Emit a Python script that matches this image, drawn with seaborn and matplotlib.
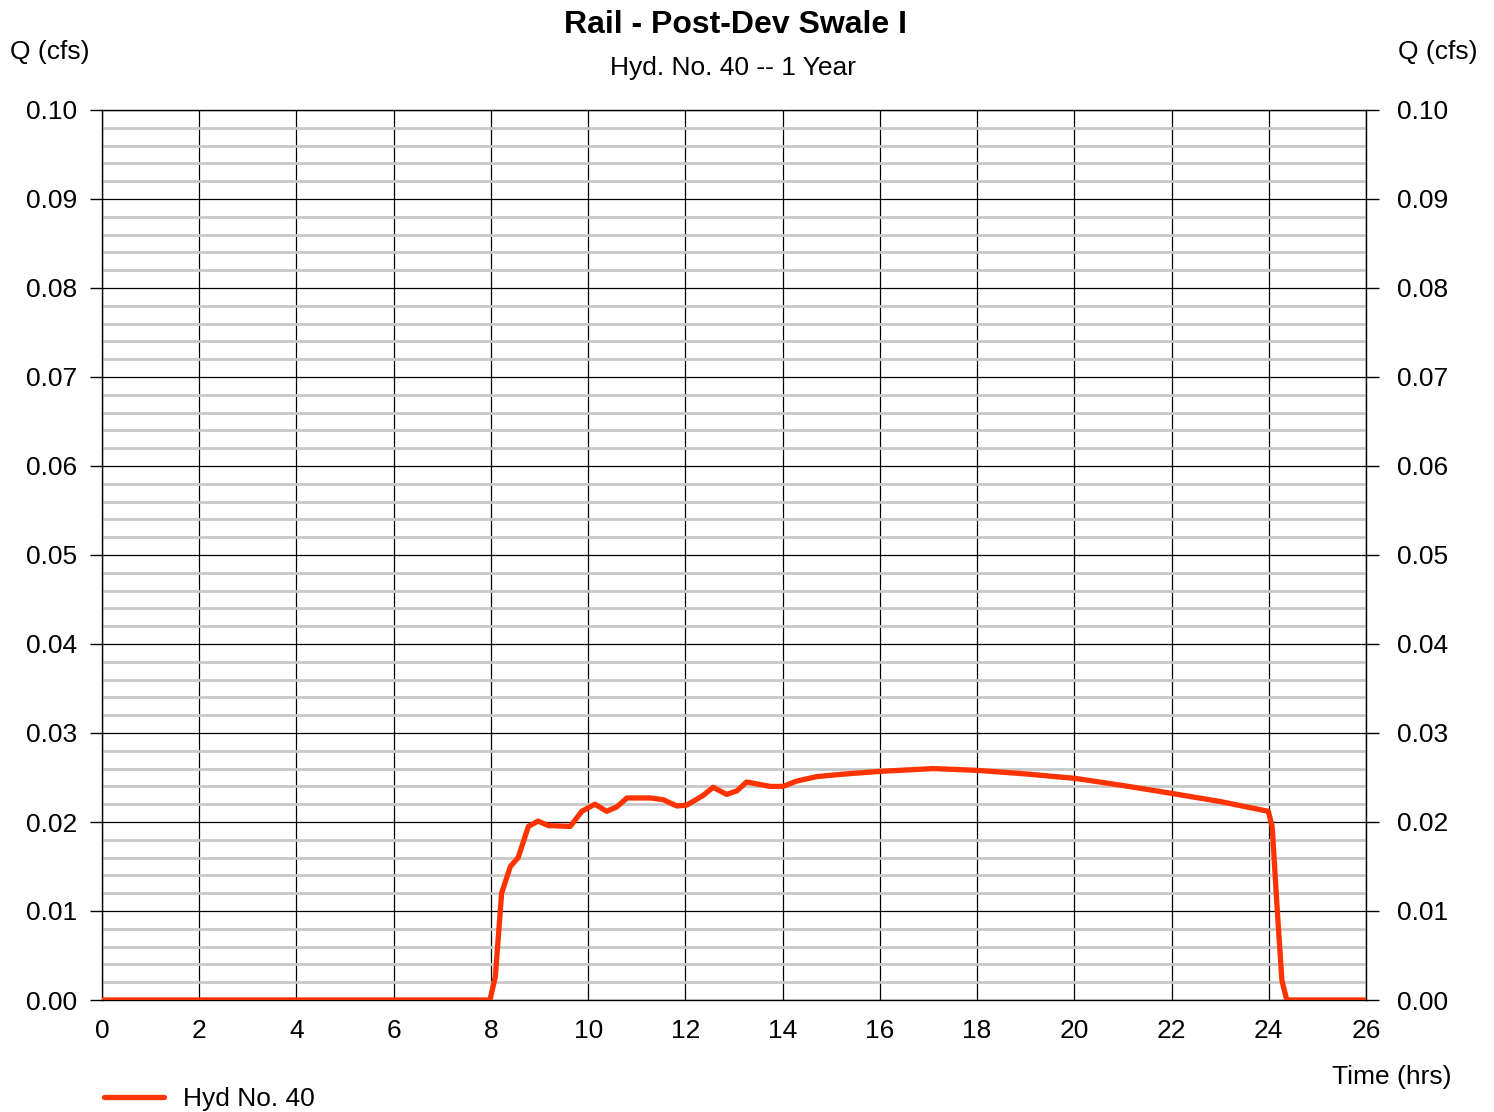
import matplotlib
matplotlib.use("Agg")
import matplotlib.pyplot as plt
import numpy as np
import pandas as pd
import seaborn as sns
from matplotlib.ticker import MultipleLocator

# hydrograph
hours = [0.0, 7.98, 8.09, 8.22, 8.40, 8.56, 8.77, 8.97, 9.18, 9.63, 9.87, 10.14,
         10.38, 10.59, 10.80, 11.28, 11.55, 11.82, 12.03, 12.37, 12.57, 12.85,
         13.06, 13.26, 13.74, 14.01, 14.29, 14.70, 15.30, 16.03, 17.10, 18.02,
         19.00, 20.02, 21.00, 22.02, 23.00, 23.99, 24.07, 24.17, 24.27, 24.37, 26.0]
flow = [0.0, 0.0, 0.0026, 0.0120, 0.0150, 0.0160, 0.0195, 0.0201, 0.0196, 0.0195,
        0.0212, 0.0220, 0.0212, 0.0217, 0.0227, 0.0227, 0.0225, 0.0218, 0.0219,
        0.0230, 0.0239, 0.0231, 0.0235, 0.0245, 0.0240, 0.0240, 0.0246, 0.0251,
        0.0254, 0.0257, 0.0260, 0.0258, 0.0254, 0.0249, 0.0241, 0.0232, 0.0223,
        0.0212, 0.0195, 0.0105, 0.0022, 0.0, 0.0]

x_ticks = list(range(0, 27, 2))
y_ticks = [0.00, 0.01, 0.02, 0.03, 0.04, 0.05, 0.06, 0.07, 0.08, 0.09, 0.10]
y_labels = [f"{v:.2f}" for v in y_ticks]

df = pd.DataFrame({"Time": hours, "Q": flow})

sns.set_theme(style="white")
plt.rcParams['font.family'] = ['Liberation Sans', 'DejaVu Sans']
plt.rcParams['text.color'] = 'black'
plt.rcParams['xtick.color'] = 'black'
plt.rcParams['ytick.color'] = 'black'

fig = plt.figure(figsize=(14.94, 11.12), dpi=100)
ax = fig.add_axes([102/1494, 1 - 1000/1112, (1366 - 102)/1494, (1000 - 110)/1112])

sns.lineplot(data=df, x="Time", y="Q", ax=ax, color="#ff3300", linewidth=3.8,
             label="Hyd No. 40", zorder=5, solid_joinstyle="round",
             solid_capstyle="round")

ax.set_xlim(0, 26)
ax.set_ylim(0, 0.10)
ax.set_xticks(x_ticks)
ax.set_yticks(y_ticks)
ax.set_yticklabels(y_labels)
ax.yaxis.set_minor_locator(MultipleLocator(0.002))

ax.set_axisbelow(True)
ax.grid(which="minor", axis="y", color="#c8c8c8", linewidth=2.0)
ax.grid(which="major", axis="both", color="black", linewidth=0.9)

for s in ax.spines.values():
    s.set_color("black")
    s.set_linewidth(1.0)

ax.set_xlabel("")
ax.set_ylabel("")

# right-hand axis copy
ax2 = ax.twinx()
ax2.set_ylim(ax.get_ylim())
ax2.set_yticks(y_ticks)
ax2.set_yticklabels(y_labels)
ax2.tick_params(axis="y", direction="out", length=9, width=1, color="black",
                labelsize=19, pad=13, labelcolor="black")
ax2.grid(False)
for s in ax2.spines.values():
    s.set_visible(False)

ax.tick_params(axis="y", which="major", direction="out", length=9, width=1,
               color="black", left=True, right=False, labelsize=19, pad=9,
               labelcolor="black")
ax.tick_params(axis="y", which="minor", left=False, right=False, length=0)
ax.tick_params(axis="x", which="major", length=0, labelsize=19, pad=14,
               labelcolor="black")

ax.legend_.remove()
h, l = ax.get_legend_handles_labels()
fig.legend(h, l, loc="center left", bbox_to_anchor=(80/1494, 1 - 1099/1112),
           frameon=False, fontsize=19, handlelength=2.3, handletextpad=0.7)

fig.text(735/1494, 1 - 25/1112, "Rail - Post-Dev Swale I", ha="center", va="center",
         fontsize=23, fontweight="bold")
fig.text(733/1494, 1 - 68/1112, "Hyd. No. 40 -- 1 Year", ha="center", va="center",
         fontsize=19)
fig.text(10/1494, 1 - 52/1112, "Q (cfs)", ha="left", va="center", fontsize=19)
fig.text(1477/1494, 1 - 52/1112, "Q (cfs)", ha="right", va="center", fontsize=19)
fig.text(1451/1494, 1 - 1077/1112, "Time (hrs)", ha="right", va="center", fontsize=19)

fig.savefig("out.png", dpi=100)
